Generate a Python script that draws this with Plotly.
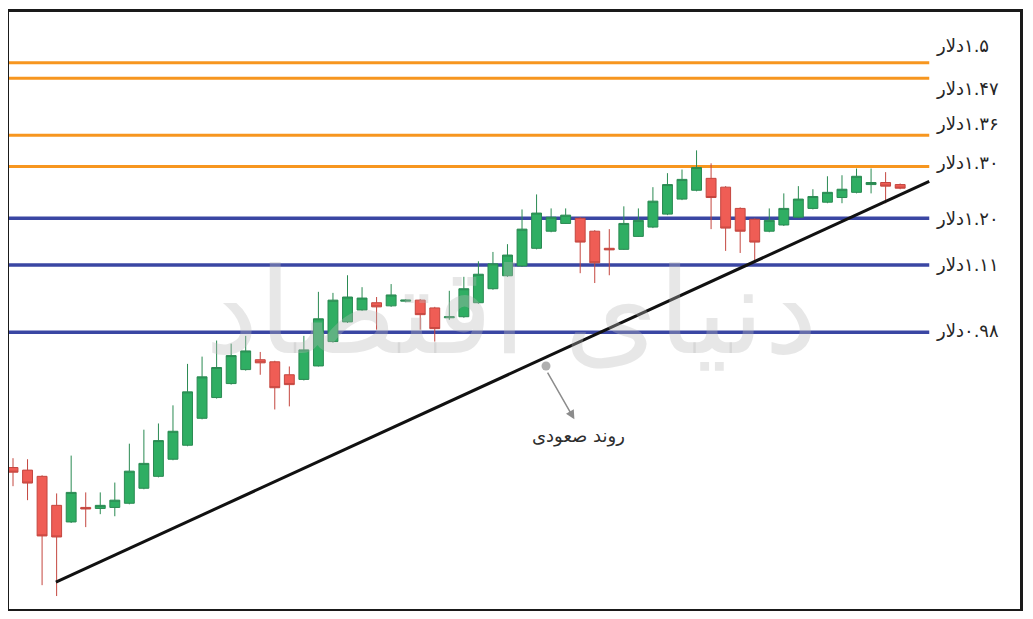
"""
Uptrend candlestick chart with support/resistance levels (Persian labels),
rebuilt in Plotly from a newspaper graphic.

    python plot.py   ->  out.html
"""
import plotly.graph_objects as go

# candle index (one bar per session)
CANDLE_X = list(range(62))

OPEN = [0.719, 0.714, 0.702, 0.646, 0.614, 0.642, 0.640, 0.642, 0.650, 0.679,
        0.702, 0.735, 0.762, 0.814, 0.854, 0.881, 0.908, 0.927, 0.923, 0.898,
        0.889, 0.915, 0.962, 1.000, 1.023, 1.037, 1.031, 1.040, 1.042, 1.027,
        1.008, 1.010, 1.037, 1.064, 1.089, 1.108, 1.142, 1.175, 1.190, 1.200,
        1.175, 1.142, 1.140, 1.165, 1.183, 1.208, 1.237, 1.254, 1.277, 1.260,
        1.219, 1.198, 1.175, 1.187, 1.202, 1.219, 1.231, 1.240, 1.250, 1.265,
        1.269, 1.265]
HIGH = [0.737, 0.735, 0.704, 0.669, 0.742, 0.671, 0.671, 0.690, 0.765, 0.792,
        0.804, 0.839, 0.919, 0.933, 0.964, 0.958, 0.973, 0.942, 0.925, 0.914,
        0.973, 1.058, 1.056, 1.090, 1.067, 1.048, 1.073, 1.044, 1.044, 1.029,
        1.060, 1.087, 1.117, 1.135, 1.150, 1.217, 1.246, 1.219, 1.219, 1.202,
        1.177, 1.179, 1.223, 1.219, 1.260, 1.287, 1.294, 1.331, 1.306, 1.262,
        1.221, 1.200, 1.219, 1.248, 1.262, 1.256, 1.281, 1.283, 1.296, 1.296,
        1.289, 1.267]
LOW = [0.683, 0.656, 0.492, 0.471, 0.612, 0.604, 0.629, 0.625, 0.648, 0.677,
       0.700, 0.733, 0.760, 0.812, 0.852, 0.879, 0.906, 0.898, 0.831, 0.837,
       0.887, 0.914, 0.960, 0.998, 1.021, 0.985, 1.029, 1.038, 0.985, 0.962,
       1.004, 1.008, 1.035, 1.062, 1.087, 1.106, 1.140, 1.173, 1.189, 1.094,
       1.075, 1.090, 1.139, 1.164, 1.181, 1.206, 1.235, 1.252, 1.179, 1.137,
       1.133, 1.114, 1.173, 1.185, 1.200, 1.217, 1.229, 1.229, 1.248, 1.248,
       1.229, 1.256]
CLOSE = [0.710, 0.689, 0.587, 0.585, 0.671, 0.639, 0.646, 0.656, 0.712, 0.727,
         0.771, 0.789, 0.865, 0.894, 0.912, 0.935, 0.944, 0.921, 0.873, 0.879,
         0.946, 1.006, 1.042, 1.048, 1.046, 1.029, 1.052, 1.042, 1.014, 0.987,
         1.010, 1.064, 1.092, 1.112, 1.129, 1.179, 1.210, 1.202, 1.206, 1.154,
         1.114, 1.139, 1.190, 1.196, 1.233, 1.265, 1.275, 1.298, 1.240, 1.181,
         1.175, 1.154, 1.196, 1.219, 1.237, 1.242, 1.250, 1.256, 1.281, 1.269,
         1.262, 1.258]

# price levels (dollars) and their labels
LEVELS = [1.50, 1.47, 1.36, 1.30, 1.20, 1.11, 0.98]
LEVEL_LABELS = ["دلار\u200e۱.۵", "دلار\u200e۱.۴۷", "دلار\u200e۱.۳۶", "دلار\u200e۱.۳۰",
                "دلار\u200e۱.۲۰", "دلار\u200e۱.۱۱", "دلار\u200e۰.۹۸"]

# rising trend line end points
TREND_X = [2.95, 63.0]
TREND_Y = [0.498, 1.271]
TREND_LABEL = "روند صعودی"
WATERMARK = "دنیای اقتصاد"

ORANGE = "#f7961f"
BLUE = "#3a46a3"
LEVEL_COLORS = [ORANGE, ORANGE, ORANGE, ORANGE, BLUE, BLUE, BLUE]
LEVEL_WIDTHS = [3, 3, 3, 3, 3.5, 3.5, 3.5]
LABEL_SHIFT = [17, -10, 12, 4, 0, 0, 2]
LINE_END = 63.0

fig = go.Figure()

for lvl, col, w in zip(LEVELS, LEVEL_COLORS, LEVEL_WIDTHS):
    fig.add_shape(type="line", xref="x", yref="y", x0=-1, x1=LINE_END, y0=lvl, y1=lvl,
                  line=dict(color=col, width=w), layer="below")

fig.add_trace(go.Candlestick(
    x=CANDLE_X, open=OPEN, high=HIGH, low=LOW, close=CLOSE,
    increasing=dict(fillcolor="#2fae63", line=dict(color="#2a8a52", width=1)),
    decreasing=dict(fillcolor="#ef5d55", line=dict(color="#c4463f", width=1)),
    whiskerwidth=0, hoverinfo="skip",
))

fig.add_trace(go.Scatter(x=TREND_X, y=TREND_Y, mode="lines",
                         line=dict(color="#111111", width=3), hoverinfo="skip"))

# pointer dot on the trend line
fig.add_trace(go.Scatter(x=[36.65], y=[0.915], mode="markers",
                         marker=dict(color="#b0b0b0", size=9), hoverinfo="skip"))

for lvl, txt, dy in zip(LEVELS, LEVEL_LABELS, LABEL_SHIFT):
    fig.add_annotation(x=63.3, y=lvl, xref="x", yref="y", text=txt, showarrow=False,
                       xanchor="left", yanchor="middle", yshift=dy,
                       font=dict(family="DejaVu Sans", size=18, color="#262626"))

fig.add_annotation(x=38.6, y=0.812, ax=36.7, ay=0.905, xref="x", yref="y",
                   axref="x", ayref="y", text="", showarrow=True,
                   arrowhead=2, arrowsize=1.2, arrowwidth=1.5, arrowcolor="#8c8c8c")
fig.add_annotation(x=38.85, y=0.779, xref="x", yref="y", text=TREND_LABEL,
                   showarrow=False, font=dict(family="DejaVu Sans", size=18, color="#2e2e2e"))

# faint watermark over the candles
fig.add_annotation(x=34.3, y=1.02, xref="x", yref="y", text=WATERMARK, showarrow=False,
                   font=dict(family="DejaVu Sans", size=120, color="rgba(185,185,185,0.35)"))

# the page has an 8px body margin, so the figure is sized to fit inside it
fig.update_layout(
    width=1017, height=603,
    margin=dict(l=1, r=5, t=4, b=2),
    paper_bgcolor="white", plot_bgcolor="white",
    showlegend=False, boxgap=0.2, boxgroupgap=0.15,
    xaxis=dict(range=[-0.275, 69.24], showgrid=False, zeroline=False,
               showticklabels=False, ticks="", showline=True, mirror=True,
               linecolor="#1a1a1a", linewidth=2.5, rangeslider=dict(visible=False)),
    yaxis=dict(range=[0.446, 1.598], showgrid=False, zeroline=False,
               showticklabels=False, ticks="", showline=True, mirror=True,
               linecolor="#1a1a1a", linewidth=2.5),
)

fig.write_html("out.html")
